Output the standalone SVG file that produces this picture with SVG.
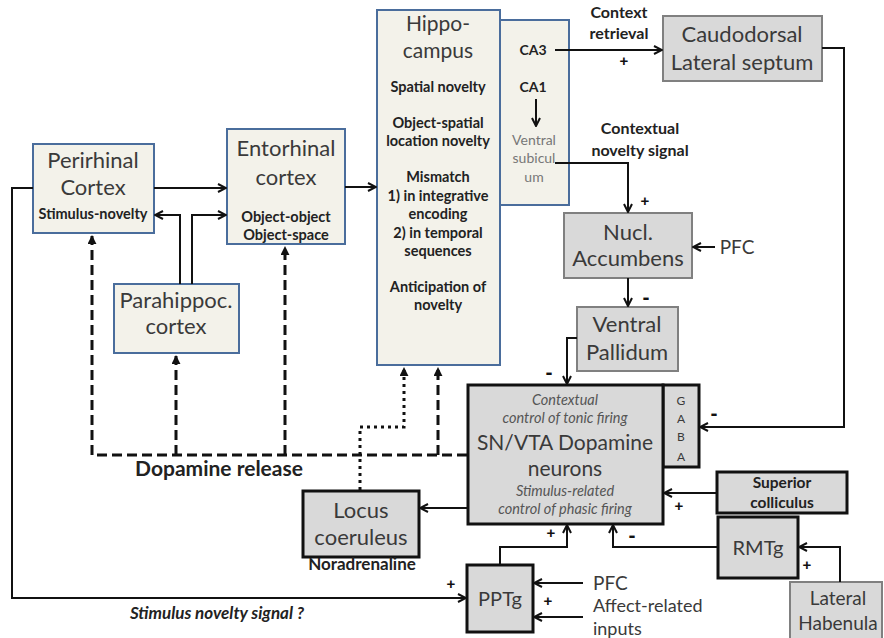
<svg xmlns="http://www.w3.org/2000/svg" width="884" height="638" viewBox="0 0 884 638">
<defs>
<marker id="open" viewBox="0 0 10 10" refX="9" refY="5" markerWidth="10" markerHeight="10" markerUnits="userSpaceOnUse" orient="auto">
<path d="M1,1 L9,5 L1,9" fill="none" stroke="#111" stroke-width="2"/>
</marker>
<marker id="tri" viewBox="0 0 10 10" refX="9" refY="5" markerWidth="9" markerHeight="9" markerUnits="userSpaceOnUse" orient="auto">
<path d="M0,0 L10,5 L0,10 Z" fill="#111"/>
</marker>
<style>
.blue{fill:#f3f2ea;stroke:#4a6d9c;stroke-width:2}
.grey{fill:#d9d9d9;stroke:#808080;stroke-width:2}
.dark{fill:#d9d9d9;stroke:#111;stroke-width:3}
.t{font-family:Lato,"Liberation Sans",sans-serif;text-anchor:middle;fill:#3a3a3a}
.big{font-size:22px}
.b{font-family:Lato,"Liberation Sans",sans-serif;font-weight:bold;font-size:14.5px;text-anchor:middle;fill:#222}
.it{font-family:Lato,"Liberation Sans",sans-serif;font-style:italic;font-size:14.5px;text-anchor:middle;fill:#555}
.sign{font-family:"Liberation Sans",sans-serif;font-weight:bold;font-size:15px;text-anchor:middle;fill:#111}
.minus{font-family:"Liberation Sans",sans-serif;font-weight:bold;font-size:21px;text-anchor:middle;fill:#111}
.c{fill:none;stroke:#111;stroke-width:2}
.dash{fill:none;stroke:#111;stroke-width:3;stroke-dasharray:10,5}
.dot{fill:none;stroke:#111;stroke-width:3;stroke-dasharray:3,4}
</style>
</defs>
<rect width="884" height="638" fill="#fff"/>

<g id="perirhinal">
<rect class="blue" x="33" y="144" width="121" height="89"/>
<text class="t big" x="93" y="168">Perirhinal</text>
<text class="t big" x="93" y="195">Cortex</text>
<text class="b" x="93" y="219">Stimulus-novelty</text>
</g>

<g id="entorhinal">
<rect class="blue" x="227" y="129" width="118" height="115"/>
<text class="t big" x="286" y="156">Entorhinal</text>
<text class="t big" x="286" y="185">cortex</text>
<text class="b" x="286" y="222">Object-object</text>
<text class="b" x="286" y="240">Object-space</text>
</g>

<g id="parahippoc">
<rect class="blue" x="114" y="284" width="125" height="69"/>
<text class="t big" x="176" y="308">Parahippoc.</text>
<text class="t big" x="176" y="334">cortex</text>
</g>

<g id="hippocampus">
<rect class="blue" x="500" y="20" width="69" height="185"/>
<rect class="blue" x="377" y="10" width="123" height="355"/>
<text class="t" x="438" y="31" style="font-size:21px">Hippo-</text>
<text class="t" x="438" y="58" style="font-size:21px">campus</text>
<text class="b" x="438" y="92">Spatial novelty</text>
<text class="b" x="438" y="128">Object-spatial</text>
<text class="b" x="438" y="146">location novelty</text>
<text class="b" x="438" y="182">Mismatch</text>
<text class="b" x="438" y="201">1) in integrative</text>
<text class="b" x="438" y="219">encoding</text>
<text class="b" x="438" y="238">2) in temporal</text>
<text class="b" x="438" y="256">sequences</text>
<text class="b" x="438" y="292">Anticipation of</text>
<text class="b" x="438" y="310">novelty</text>
<text class="b" x="533" y="55" style="font-size:14px">CA3</text>
<text class="b" x="533" y="92" style="font-size:14px">CA1</text>
<text class="t" x="534" y="145" style="font-size:14px;fill:#777">Ventral</text>
<text class="t" x="534" y="163" style="font-size:14px;fill:#777">subicul</text>
<text class="t" x="534" y="182" style="font-size:14px;fill:#777">um</text>
</g>

<g id="caudodorsal">
<rect class="grey" x="663" y="16" width="159" height="65"/>
<text class="t big" x="742" y="42">Caudodorsal</text>
<text class="t big" x="742" y="70">Lateral septum</text>
</g>

<g id="accumbens">
<rect class="grey" x="564" y="213" width="128" height="65"/>
<text class="t big" x="628" y="240">Nucl.</text>
<text class="t big" x="628" y="266">Accumbens</text>
</g>

<g id="pallidum">
<rect class="grey" x="577" y="307" width="101" height="64"/>
<text class="t big" x="627" y="332">Ventral</text>
<text class="t big" x="627" y="360">Pallidum</text>
</g>

<g id="snvta">
<rect class="dark" x="663" y="385" width="36" height="82"/>
<rect class="dark" x="468" y="385" width="195" height="139"/>
<text class="it" x="565" y="405">Contextual</text>
<text class="it" x="565" y="423">control of tonic firing</text>
<text class="t" x="565" y="450" style="font-size:21px">SN/VTA Dopamine</text>
<text class="t" x="565" y="476" style="font-size:21px">neurons</text>
<text class="it" x="565" y="496">Stimulus-related</text>
<text class="it" x="565" y="514">control of phasic firing</text>
<text class="t" x="681" y="405" style="font-size:12px">G</text>
<text class="t" x="681" y="423" style="font-size:12px">A</text>
<text class="t" x="681" y="441" style="font-size:12px">B</text>
<text class="t" x="681" y="461" style="font-size:12px">A</text>
</g>

<g id="superior-colliculus">
<rect class="dark" x="717" y="472" width="130" height="41"/>
<text class="b" x="782" y="488" style="font-size:15.5px">Superior</text>
<text class="b" x="782" y="508" style="font-size:15.5px">colliculus</text>
</g>

<g id="rmtg">
<rect class="dark" x="718" y="517" width="80" height="61"/>
<text class="t" x="758" y="555" style="font-size:20px">RMTg</text>
</g>

<g id="lateral-habenula">
<rect class="grey" x="790" y="582" width="92" height="60"/>
<text class="t" x="838" y="605" style="font-size:19px">Lateral</text>
<text class="t" x="838" y="630" style="font-size:19px">Habenula</text>
</g>

<g id="pptg">
<rect class="dark" x="467" y="565" width="66" height="67"/>
<text class="t" x="500" y="606" style="font-size:20px">PPTg</text>
</g>

<g id="locus-coeruleus">
<rect class="dark" x="303" y="491" width="116" height="66"/>
<text class="t big" x="361" y="518">Locus</text>
<text class="t big" x="361" y="545">coeruleus</text>
<text class="b" x="362" y="570" style="font-size:17px">Noradrenaline</text>
</g>

<g id="connectors">
<path class="c" d="M154,188 H226" marker-end="url(#open)"/>
<path class="c" d="M180,284 V215 H155" marker-end="url(#open)"/>
<path class="c" d="M192,284 V215 H226" marker-end="url(#open)"/>
<path class="c" d="M345,187 H376" marker-end="url(#open)"/>
<path class="c" d="M555,50 H662" marker-end="url(#open)"/>
<path class="c" d="M536,99 V126" marker-end="url(#open)"/>
<path class="c" d="M555,163 H628 V212" marker-end="url(#open)"/>
<path class="c" d="M715,247 H693" marker-end="url(#open)"/>
<path class="c" d="M628,278 V306" marker-end="url(#open)"/>
<path class="c" d="M577,338 H567 V384" marker-end="url(#open)"/>
<path class="c" d="M822,48 H844 V427 H700" marker-end="url(#open)"/>
<path class="c" d="M717,493 H664" marker-end="url(#open)"/>
<path class="c" d="M718,547 H613 V525" marker-end="url(#open)"/>
<path class="c" d="M840,582 V547 H799" marker-end="url(#open)"/>
<path class="c" d="M500,565 V547 H567 V525" marker-end="url(#open)"/>
<path class="c" d="M583,583 H534" marker-end="url(#open)"/>
<path class="c" d="M583,617 H534" marker-end="url(#open)"/>
<path class="c" d="M468,508 H420" marker-end="url(#open)"/>
<path class="c" d="M33,188 H12 V598 H466" marker-end="url(#open)"/>
<path class="dash" d="M467,455 H92 V236" marker-end="url(#tri)"/>
<path class="dash" d="M176,455 V356" marker-end="url(#tri)"/>
<path class="dash" d="M285,455 V247" marker-end="url(#tri)"/>
<path class="dash" d="M438,455 V368" marker-end="url(#tri)"/>
<path class="dot" d="M360,490 V427 H404 V368" marker-end="url(#tri)"/>
<text class="b" x="619" y="18" style="font-size:16px">Context</text>
<text class="b" x="619" y="39" style="font-size:16px">retrieval</text>
<text class="sign" x="624" y="66">+</text>
<text class="b" x="640" y="134" style="font-size:16px">Contextual</text>
<text class="b" x="640" y="156" style="font-size:16px">novelty signal</text>
<text class="sign" x="645" y="206">+</text>
<text class="t" x="737" y="254" style="font-size:19px">PFC</text>
<text class="minus" x="646" y="304">-</text>
<text class="minus" x="549" y="379">-</text>
<text class="minus" x="714" y="420">-</text>
<text class="sign" x="679" y="511">+</text>
<text class="minus" x="632" y="542">-</text>
<text class="sign" x="807" y="570">+</text>
<text class="sign" x="551" y="538">+</text>
<text class="sign" x="451" y="589">+</text>
<text class="sign" x="548" y="606">+</text>
<text class="t" x="593" y="590" style="font-size:19px;text-anchor:start">PFC</text>
<text class="t" x="593" y="612" style="font-size:18px;text-anchor:start">Affect-related</text>
<text class="t" x="593" y="635" style="font-size:18px;text-anchor:start">inputs</text>
<text class="b" x="219" y="476" style="font-size:21px">Dopamine release</text>
<text class="b" x="217" y="619" style="font-style:italic;font-size:17px">Stimulus novelty signal ?</text>
</g>
</svg>
